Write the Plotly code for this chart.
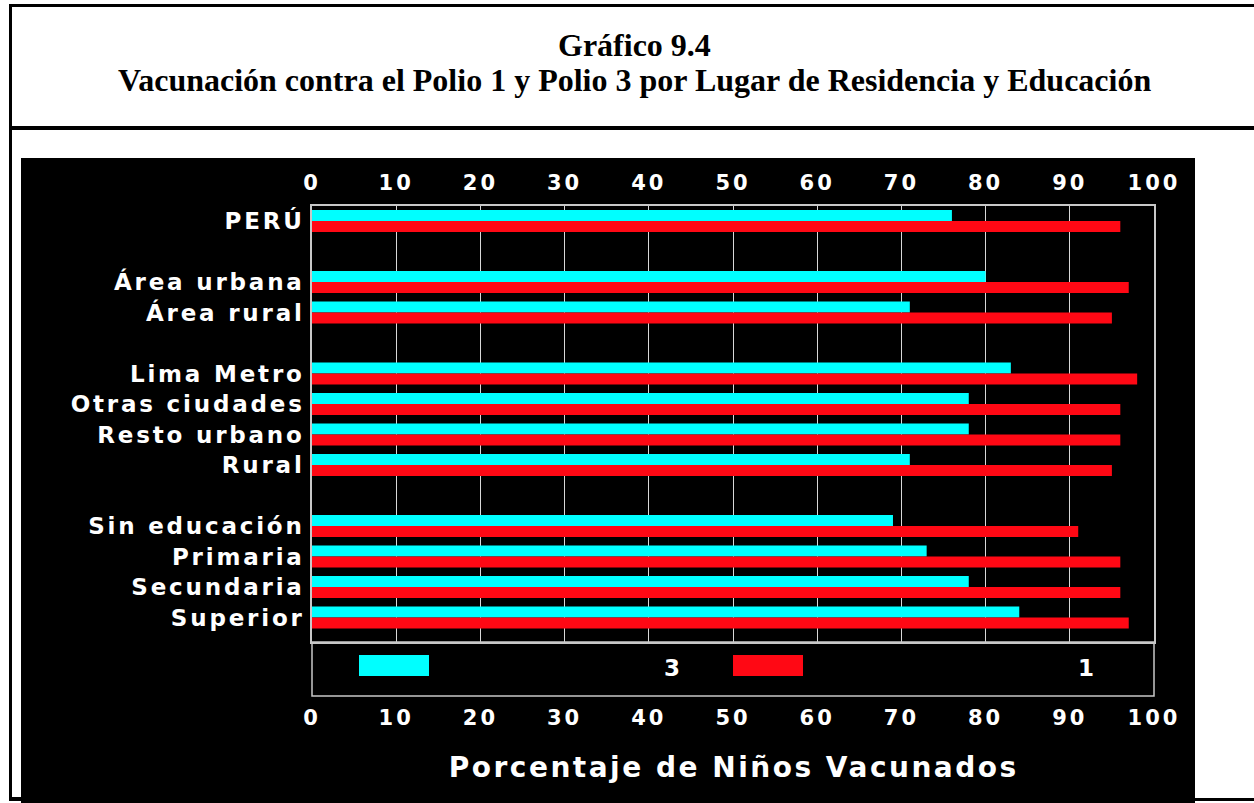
import plotly.graph_objects as go

# ---------------- data ----------------
categories = ["PERÚ", "Área urbana", "Área rural", "Lima Metro", "Otras ciudades",
              "Resto urbano", "Rural", "Sin educación", "Primaria", "Secundaria", "Superior"]
group_sizes = [1, 2, 4, 4]           # categories per block, blank row between blocks
polio3 = [76, 80, 71, 83, 78, 78, 71, 69, 73, 78, 84]
polio1 = [96, 97, 95, 98, 96, 96, 95, 91, 96, 96, 97]
series_names = ["3", "1"]
x_ticks = [0, 10, 20, 30, 40, 50, 60, 70, 80, 90, 100]
title_line1 = "Gráfico 9.4"
title_line2 = "Vacunación contra el Polio 1 y Polio 3 por Lugar de Residencia y Educación"
x_title = "Porcentaje de Niños Vacunados"

# ---------------- layout helpers ----------------
W, H = 1254, 803
L, R, T, B = 312, 1154, 206, 696     # plot-area pixel box (incl. legend strip)
LEG_TOP = 642


def px(xp):
    return (xp - L) / (R - L)


def py(yp):
    return (B - yp) / (B - T)


# row positions: blank row between blocks
rows = []
s = 0
for g in group_sizes:
    for _ in range(g):
        rows.append(s)
        s += 1
    s += 1

CYAN = "#00ffff"
RED = "#ff0814"
LBL_FONT = dict(family="DejaVu Sans", size=23, color="white", weight="bold")
LEG_FONT = dict(family="DejaVu Sans", size=23, color="white", weight="bold")
TICK_FONT = dict(family="DejaVu Sans", size=21, color="white", weight="bold")

fig = go.Figure()
fig.add_trace(go.Bar(y=rows, x=polio3, orientation="h", name=series_names[0],
                     marker=dict(color=CYAN, line=dict(width=0))))
fig.add_trace(go.Bar(y=rows, x=polio1, orientation="h", name=series_names[1],
                     marker=dict(color=RED, line=dict(width=0))))
fig.add_trace(go.Scatter(x=[None], y=[None], xaxis="x2", showlegend=False, hoverinfo="skip"))

shapes = []
# black panel
shapes.append(dict(type="rect", xref="paper", yref="paper", layer="below",
                   x0=px(21), x1=px(1195), y0=py(803), y1=py(158),
                   fillcolor="black", line=dict(width=0)))


def bar_line(x0, x1, y0, y1):
    shapes.append(dict(type="rect", xref="paper", yref="paper", layer="above",
                       x0=px(x0), x1=px(x1), y0=py(y1), y1=py(y0),
                       fillcolor="black", line=dict(width=0)))


bar_line(9, 1254, 4, 7)        # top border
bar_line(9, 1254, 126, 130)    # separator under title
bar_line(9, 12, 4, 801)        # left border
bar_line(9, 21, 797, 801)      # bottom-left
bar_line(1195, 1254, 798, 801) # bottom-right
# legend box
shapes.append(dict(type="rect", xref="paper", yref="paper", layer="above",
                   x0=0, x1=1, y0=0, y1=py(LEG_TOP),
                   fillcolor="rgba(0,0,0,0)", line=dict(color="#c8c8c8", width=1.5)))
# legend swatches
for x0, x1, c in [(359, 429, CYAN), (733, 803, RED)]:
    shapes.append(dict(type="rect", xref="paper", yref="paper", layer="above",
                       x0=px(x0), x1=px(x1), y0=py(676), y1=py(655),
                       fillcolor=c, line=dict(width=0)))

annotations = [
    dict(text="<b>%s</b>" % title_line1, x=px(634), y=py(45), xref="paper", yref="paper",
         showarrow=False, xanchor="center", yanchor="middle",
         font=dict(family="Liberation Serif", size=32, color="black")),
    dict(text="<b>%s</b>" % title_line2, x=px(634), y=py(80), xref="paper", yref="paper",
         showarrow=False, xanchor="center", yanchor="middle",
         font=dict(family="Liberation Serif", size=32, color="black")),
    dict(text=x_title, x=px(733), y=py(767), xref="paper", yref="paper",
         showarrow=False, xanchor="center", yanchor="middle",
         font=dict(family="DejaVu Sans", size=28, color="white", weight="bold")),
    dict(text=series_names[0], x=px(673), y=py(668), xref="paper", yref="paper",
         showarrow=False, xanchor="center", yanchor="middle", font=LEG_FONT),
    dict(text=series_names[1], x=px(1087), y=py(668), xref="paper", yref="paper",
         showarrow=False, xanchor="center", yanchor="middle", font=LEG_FONT),
]

fig.update_layout(
    width=W, height=H,
    margin=dict(l=L, r=W - R, t=T, b=H - B, pad=0),
    paper_bgcolor="white", plot_bgcolor="black",
    barmode="group", bargap=0.28, bargroupgap=0,
    showlegend=False,
    shapes=shapes, annotations=annotations,
    xaxis=dict(range=[0, 100], tickvals=x_ticks, side="top", anchor="y",
               showgrid=True, gridcolor="#d8d8d8", gridwidth=1,
               showline=True, mirror=True, linecolor="#c8c8c8", linewidth=1.5,
               zeroline=False, ticks="outside", ticklen=6, tickcolor="rgba(0,0,0,0)",
               tickfont=TICK_FONT),
    xaxis2=dict(range=[0, 100], tickvals=x_ticks, side="bottom", overlaying="x",
                anchor="free", position=0, showgrid=False, showline=False, zeroline=False,
                ticks="outside", ticklen=3, tickcolor="rgba(0,0,0,0)",
                tickfont=TICK_FONT),
    yaxis=dict(domain=[py(LEG_TOP), 1], range=[13.8, -0.49],
               tickvals=rows, ticktext=categories,
               showgrid=False, zeroline=False,
               showline=True, mirror=True, linecolor="#c8c8c8", linewidth=1.5,
               ticks="outside", ticklen=1, tickcolor="rgba(0,0,0,0)",
               tickfont=LBL_FONT),
)

post = """
document.body.style.margin = '0';
var st = document.createElement('style');
st.textContent = '.ytick text{letter-spacing:2.8px;} .xtick text, .x2tick text{letter-spacing:3px;}'
  + ' .annotation[data-index="2"] text{letter-spacing:2.5px;}'
  + ' .annotation[data-index="3"] text, .annotation[data-index="4"] text{letter-spacing:2px;}';
document.head.appendChild(st);
"""

fig.write_html("out.html", post_script=post, config={"displayModeBar": False})
